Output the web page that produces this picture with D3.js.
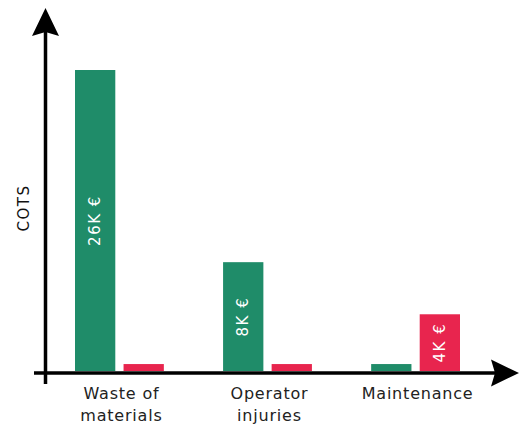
<!DOCTYPE html>
<html>
<head>
<meta charset="utf-8">
<script src="https://cdn.jsdelivr.net/npm/d3@7"></script>
<style>
  body { margin: 0; background: #fff; }
  svg { display: block; font-family: "DejaVu Sans", Verdana, sans-serif; }
</style>
</head>
<body>
<svg id="chart" width="520" height="426"></svg>
<script>
// data (K €) — small bars are just visible stubs in the original
const categories = ['Waste of materials', 'Operator injuries', 'Maintenance'];
const categoryLines = [['Waste of', 'materials'], ['Operator', 'injuries'], ['Maintenance']];
const seriesNames = ['current', 'after'];
const currentValues = [26, 9.4, 0.6];
const afterValues = [0.6, 0.6, 4.9];
const currentLabels = ['26K €', '8K €', ''];
const afterLabels = ['', '', '4K €'];
const colors = { current: '#1f8c69', after: '#e8254e' };

const svg = d3.select('#chart');

const baseY = 371;
const axisX = 45.5;

const x0 = d3.scaleBand()
  .domain(categories)
  .range([75, 460])
  .paddingInner(0.4)
  .paddingOuter(0);

const x1 = d3.scaleBand()
  .domain(seriesNames)
  .range([0, x0.bandwidth()])
  .paddingInner(0.17);

const y = d3.scaleLinear()
  .domain([0, 26])
  .range([baseY, 70]);

const rows = categories.map((c, i) => ({
  category: c,
  lines: categoryLines[i],
  bars: [
    { key: 'current', value: currentValues[i], label: currentLabels[i] },
    { key: 'after', value: afterValues[i], label: afterLabels[i] }
  ]
}));

const groups = svg.selectAll('g.group')
  .data(rows)
  .join('g')
  .attr('class', 'group')
  .attr('transform', d => `translate(${x0(d.category)},0)`);

groups.selectAll('rect')
  .data(d => d.bars)
  .join('rect')
  .attr('x', d => x1(d.key))
  .attr('width', x1.bandwidth())
  .attr('y', d => y(d.value))
  .attr('height', d => baseY - y(d.value))
  .attr('fill', d => colors[d.key]);

// 棒の中の縦書きラベル
groups.selectAll('text.value')
  .data(d => d.bars.filter(b => b.label))
  .join('text')
  .attr('class', 'value')
  .attr('transform', d => {
    const cx = x1(d.key) + x1.bandwidth() / 2;
    const cy = (y(d.value) + baseY) / 2;
    return `translate(${cx},${cy}) rotate(-90)`;
  })
  .attr('text-anchor', 'middle')
  .attr('dominant-baseline', 'central')
  .attr('fill', '#fff')
  .attr('font-size', 15)
  .attr('letter-spacing', 1.5)
  .text(d => d.label);

// category labels
groups.append('text')
  .attr('x', x0.bandwidth() / 2 + 2)
  .attr('y', 399)
  .attr('text-anchor', 'middle')
  .attr('fill', '#222')
  .attr('font-size', 16)
  .attr('letter-spacing', 0.8)
  .selectAll('tspan')
  .data(d => d.lines)
  .join('tspan')
  .attr('x', x0.bandwidth() / 2 + 2)
  .attr('dy', (d, i) => i === 0 ? 0 : 22)
  .text(d => d);

// axes with arrow heads
const arrow = (tipX, tipY, dir) => {
  // dir: 'up' or 'right'
  const p = d3.path();
  if (dir === 'up') {
    p.moveTo(tipX, tipY);
    p.lineTo(tipX + 13.5, tipY + 28);
    p.lineTo(tipX, tipY + 24);
    p.lineTo(tipX - 13.5, tipY + 28);
  } else {
    p.moveTo(tipX, tipY);
    p.lineTo(tipX - 28, tipY + 13.5);
    p.lineTo(tipX - 24, tipY);
    p.lineTo(tipX - 28, tipY - 13.5);
  }
  p.closePath();
  return p.toString();
};

svg.append('line')
  .attr('x1', axisX).attr('x2', axisX)
  .attr('y1', 384).attr('y2', 30)
  .attr('stroke', '#000').attr('stroke-width', 3.5);

svg.append('line')
  .attr('x1', 34).attr('x2', 496)
  .attr('y1', 373).attr('y2', 373)
  .attr('stroke', '#000').attr('stroke-width', 3.5);

svg.append('path').attr('d', arrow(axisX, 8, 'up')).attr('fill', '#000');
svg.append('path').attr('d', arrow(519, 373, 'right')).attr('fill', '#000');

svg.append('text')
  .attr('transform', 'translate(23.5,208) rotate(-90)')
  .attr('text-anchor', 'middle')
  .attr('dominant-baseline', 'central')
  .attr('font-size', 15)
  .attr('letter-spacing', 1.5)
  .attr('fill', '#111')
  .text('COTS');
</script>
</body>
</html>
